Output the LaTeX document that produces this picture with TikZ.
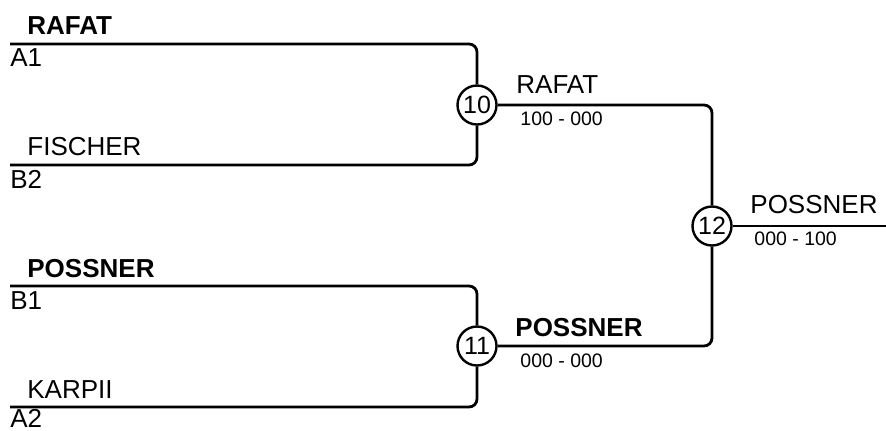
\documentclass[tikz,border=0pt]{standalone}
\usepackage{fontspec}
\setmainfont{Liberation Sans}
\begin{document}
\begin{tikzpicture}[x=0.5pt,y=-0.5pt,
    game/.style={circle,draw,line width=1.2pt,minimum size=19.5pt,inner sep=0pt,fill=white,font=\fontsize{12.5}{14}\selectfont},
    player/.style={anchor=base west,inner sep=0pt,font=\fontsize{13}{15}\selectfont},
    winner/.style={anchor=base west,inner sep=0pt,font=\fontsize{13}{15}\selectfont\bfseries},
    score/.style={anchor=base west,inner sep=0pt,font=\fontsize{9.75}{11}\selectfont},
    bracket/.style={line width=1.4pt,rounded corners=4pt}
  ]
		\useasboundingbox (0,0) rectangle (886,430);

		% games
		\node at (477,105) [game] (m10) {10};
		\node at (477,346) [game] (m11) {11};
		\node at (712,226) [game] (m12) {12};

		% entries
		\coordinate (a1) at (10,44);
		\coordinate (b2) at (10,165);
		\coordinate (b1) at (10,286);
		\coordinate (a2) at (10,407);
		\coordinate (out) at (886,226);

		\node at (27,34) [winner] (n1) {RAFAT};
		\node at (10,66) [player] (s1) {A1};
		\node at (27,155) [player] (n2) {FISCHER};
		\node at (10,188) [player] (s2) {B2};
		\node at (27,277) [winner] (n3) {POSSNER};
		\node at (10,309) [player] (s3) {B1};
		\node at (27,398) [player] (n4) {KARPII};
		\node at (10,427) [player] (s4) {A2};

		% results
		\node at (516,93) [player] (w10) {RAFAT};
		\node at (520,125) [score] (r10) {100 - 000};
		\node at (515,336) [winner] (w11) {POSSNER};
		\node at (520,367) [score] (r11) {000 - 000};
		\node at (750,213) [player] (w12) {POSSNER};
		\node at (754,245) [score] (r12) {000 - 100};

		% lines
		\draw[bracket] (a1) -| (m10);
		\draw[bracket] (b2) -| (m10);
		\draw[bracket] (b1) -| (m11);
		\draw[bracket] (a2) -| (m11);
		\draw[bracket] (m10) -| (m12);
		\draw[bracket] (m11) -| (m12);
		\draw[bracket] (m12) -- (out);
	\end{tikzpicture}
\end{document}
